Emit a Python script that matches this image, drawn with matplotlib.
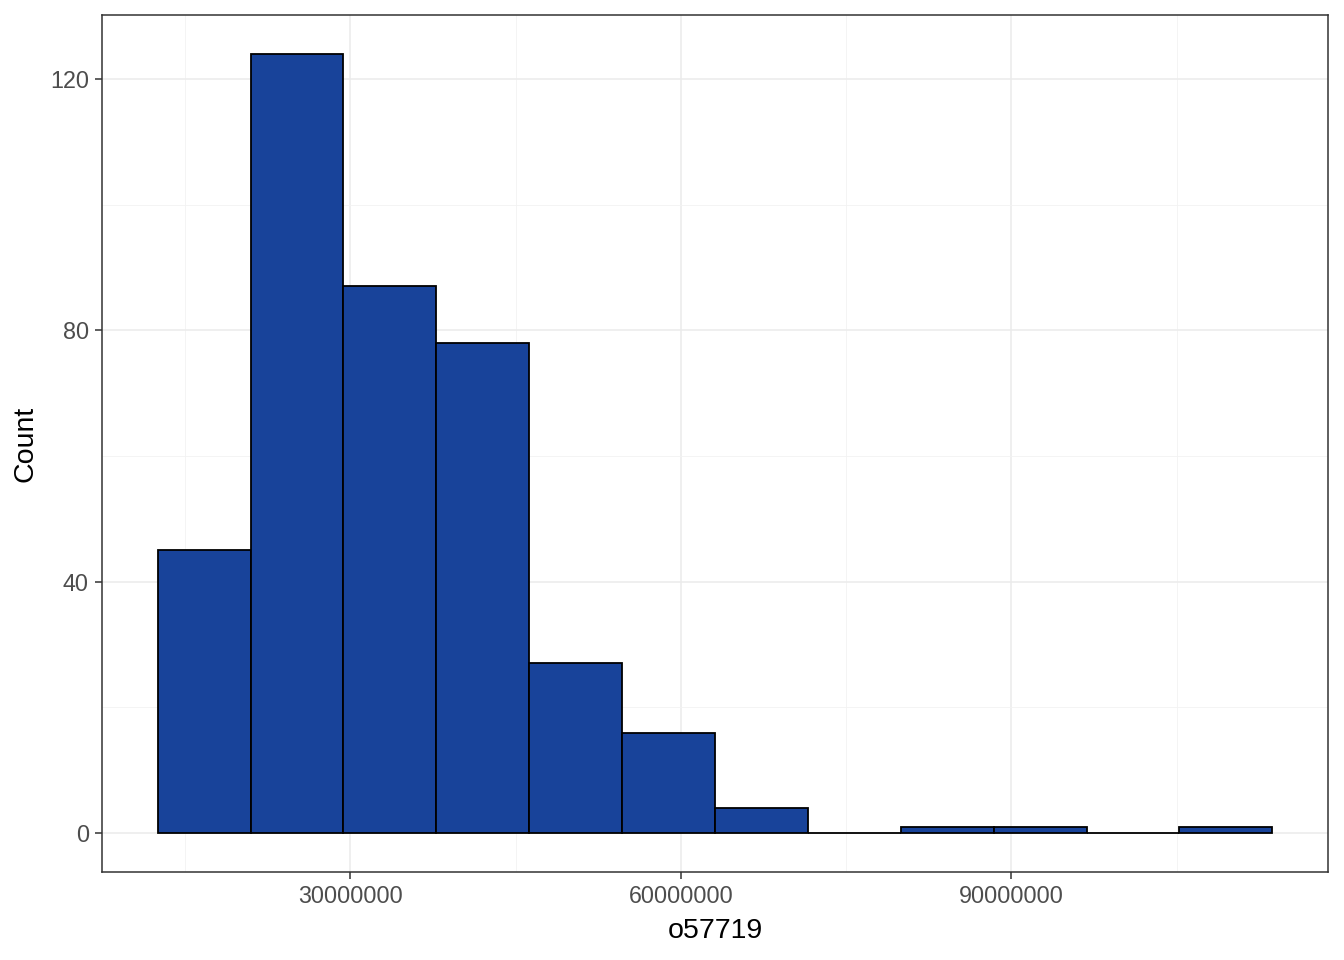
import matplotlib
matplotlib.use("Agg")
import matplotlib.pyplot as plt
import numpy as np

plt.rcParams['font.family'] = ['Liberation Sans', 'DejaVu Sans']

# Histogram data
bin_start = 12.51e6
bin_width = 8.43e6
counts = [45, 124, 87, 78, 27, 16, 4, 0, 1, 1, 0, 1]
x_ticks = [30000000, 60000000, 90000000]
x_tick_labels = ["30000000", "60000000", "90000000"]
y_ticks = [0, 40, 80, 120]
x_minor = [15e6, 45e6, 75e6, 105e6]
y_minor = [20, 60, 100]
x_label = "o57719"
y_label = "Count"

fill = "#18439A"

fig = plt.figure(figsize=(13.44, 9.6), dpi=100)
ax = fig.add_axes([102/1344, 1-872/960, (1328-102)/1344, (872-15)/960])

edges = bin_start + bin_width * np.arange(len(counts))
ax.bar(edges, counts, width=bin_width, align='edge', color=fill,
       edgecolor='black', linewidth=1.3, zorder=3)

xmin = bin_start
xmax = bin_start + bin_width * len(counts)
xr = xmax - xmin
ax.set_xlim(xmin - 0.05 * xr, xmax + 0.05 * xr)
ymax = max(counts)
ax.set_ylim(-0.05 * ymax, ymax * 1.05)

ax.set_xticks(x_ticks)
ax.set_xticklabels(x_tick_labels)
ax.set_yticks(y_ticks)
ax.set_xticks(x_minor, minor=True)
ax.set_yticks(y_minor, minor=True)

ax.grid(which='major', color='#EBEBEB', linewidth=1.1, zorder=0)
ax.grid(which='minor', color='#F2F2F2', linewidth=0.6, zorder=0)
ax.set_axisbelow(True)

for s in ax.spines.values():
    s.set_color('#333333')
    s.set_linewidth(1.1)

ax.tick_params(which='major', length=5, width=1.1, color='#333333',
               labelsize=16.8, labelcolor='#4D4D4D', pad=4.5)
ax.tick_params(which='minor', length=0)

ax.set_xlabel(x_label, fontsize=20.5, color='black', labelpad=7)
ax.set_ylabel(y_label, fontsize=20.5, color='black', labelpad=8)

fig.savefig("out.png", dpi=100, facecolor='white')
